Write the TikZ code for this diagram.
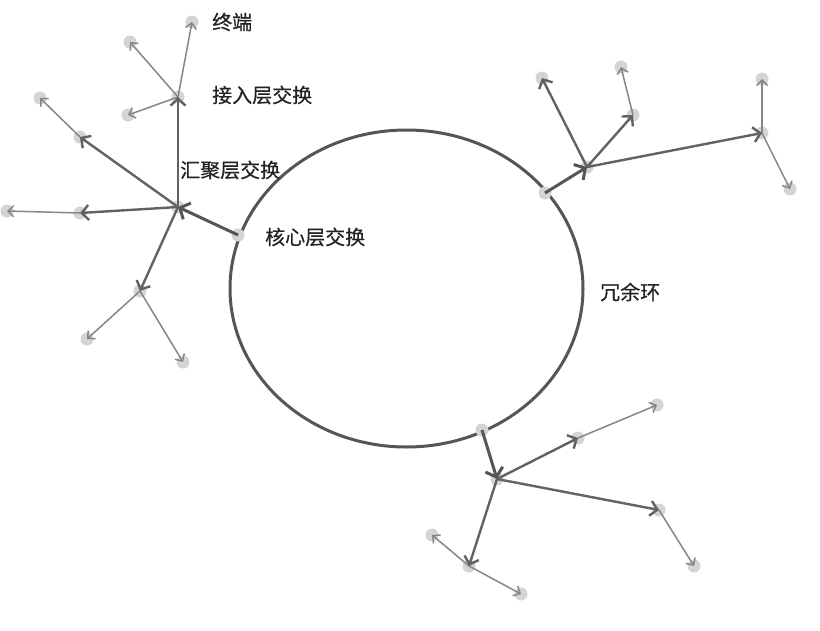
\documentclass[tikz,border=0pt]{standalone}
\usepackage{fontspec}
\newfontfamily\cjk[FakeBold=0.5]{Noto Sans CJK SC}
\usetikzlibrary{arrows.meta,shapes.geometric}
\definecolor{ringc}{HTML}{555555}
\definecolor{linka}{HTML}{555555}
\definecolor{linkb}{HTML}{626262}
\definecolor{linkc}{HTML}{868686}
\definecolor{dotc}{HTML}{D4D4D4}
\definecolor{txt}{HTML}{222222}
\begin{document}
\begin{tikzpicture}[x=1pt,y=-1pt,
  dot/.style={circle,fill=dotc,minimum size=13pt,inner sep=0pt},
  lone/.style={draw=linka,line width=3pt,-{Straight Barb[length=8pt,width=18pt]}},
  ltwo/.style={draw=linkb,line width=2.4pt,-{Straight Barb[length=7pt,width=15pt]}},
  lthree/.style={draw=linkc,line width=1.5pt,-{Straight Barb[length=5.5pt,width=11pt]}},
  lab/.style={anchor=west,inner sep=0pt,text=txt,font=\cjk\fontsize{20}{22}\selectfont}]
\useasboundingbox (0,0) rectangle (820,630);
% ring
\node[draw=ringc,line width=3pt,ellipse,minimum width=353pt,minimum height=317pt,inner sep=0pt] (ring) at (406.5,288.5) {};
% core points
\node[dot] (c1) at (238,235) {};
\node[dot] (c2) at (545,193) {};
\node[dot] (c3) at (482,430) {};
% left cluster
\node[dot] (h1) at (178,207) {};
\node[dot] (a1) at (178,97) {};
\node[dot] (a2) at (80,137) {};
\node[dot] (a3) at (80,213) {};
\node[dot] (a4) at (140,291) {};
\node[dot] (t1) at (192,22) {};
\node[dot] (t2) at (130,42) {};
\node[dot] (t3) at (128,115) {};
\node[dot] (t4) at (40,98) {};
\node[dot] (t5) at (7,211) {};
\node[dot] (t6) at (87,339) {};
\node[dot] (t7) at (183,362) {};
% top-right cluster
\node[dot] (h2) at (587,167) {};
\node[dot] (b1) at (542,78) {};
\node[dot] (b2) at (633,115) {};
\node[dot] (b3) at (762,133) {};
\node[dot] (u1) at (621,67) {};
\node[dot] (u2) at (762,79) {};
\node[dot] (u3) at (790,189) {};
% bottom cluster
\node[dot] (h3) at (497,479) {};
\node[dot] (d1) at (578,438) {};
\node[dot] (d2) at (659,510) {};
\node[dot] (d3) at (469,566) {};
\node[dot] (v1) at (657,405) {};
\node[dot] (v2) at (694,566) {};
\node[dot] (v3) at (432,535) {};
\node[dot] (v4) at (521,594) {};
% links level 3
\draw[lthree] (a1.center) -- (t1.center);
\draw[lthree] (a1.center) -- (t2.center);
\draw[lthree] (a1.center) -- (t3.center);
\draw[lthree] (a2.center) -- (t4.center);
\draw[lthree] (a3.center) -- (t5.center);
\draw[lthree] (a4.center) -- (t6.center);
\draw[lthree] (a4.center) -- (t7.center);
\draw[lthree] (b2.center) -- (u1.center);
\draw[lthree] (b3.center) -- (u2.center);
\draw[lthree] (b3.center) -- (u3.center);
\draw[lthree] (d1.center) -- (v1.center);
\draw[lthree] (d2.center) -- (v2.center);
\draw[lthree] (d3.center) -- (v3.center);
\draw[lthree] (d3.center) -- (v4.center);
% links level 2
\draw[ltwo] (h1.center) -- (a1.center);
\draw[ltwo] (h1.center) -- (a2.center);
\draw[ltwo] (h1.center) -- (a3.center);
\draw[ltwo] (h1.center) -- (a4.center);
\draw[ltwo] (h2.center) -- (b1.center);
\draw[ltwo] (h2.center) -- (b2.center);
\draw[ltwo] (h2.center) -- (b3.center);
\draw[ltwo] (h3.center) -- (d1.center);
\draw[ltwo] (h3.center) -- (d2.center);
\draw[ltwo] (h3.center) -- (d3.center);
% links level 1
\draw[lone] (c1.center) -- (h1.center);
\draw[lone] (c2.center) -- (h2.center);
\draw[lone] (c3.center) -- (h3.center);
% labels
\node[lab] (l1) at (212,22) {终端};
\node[lab] (l2) at (212,95) {接入层交换};
\node[lab] (l3) at (180,170) {汇聚层交换};
\node[lab] (l4) at (265,237) {核心层交换};
\node[lab] (l5) at (600,292) {冗余环};
\end{tikzpicture}
\end{document}
